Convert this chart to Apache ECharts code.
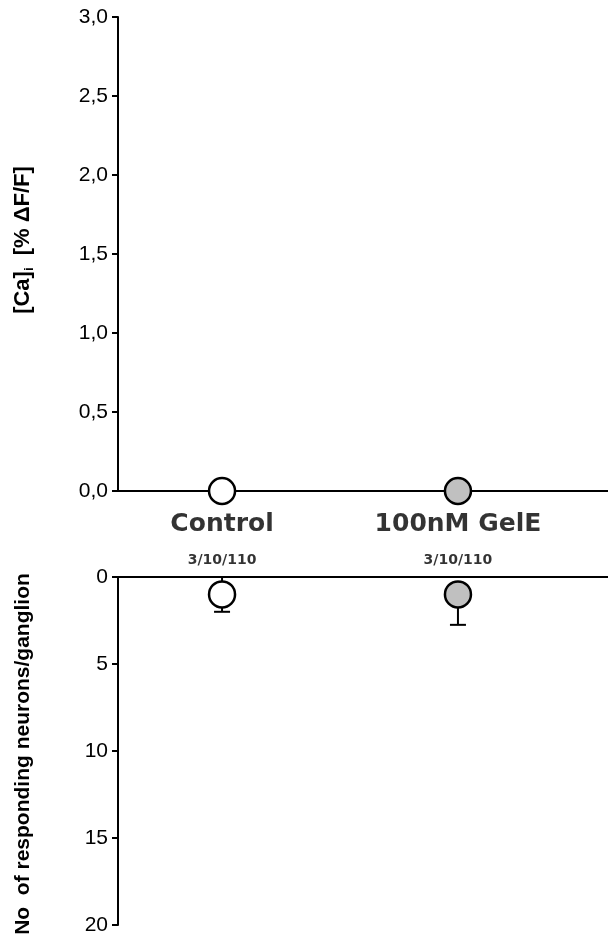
<!DOCTYPE html>
<html>
<head>
<meta charset="utf-8">
<script src="https://cdn.jsdelivr.net/npm/echarts@6/dist/echarts.min.js"></script>
<style>
  html, body { margin: 0; padding: 0; background: #fff; }
  #chart { width: 608px; height: 940px; }
</style>
</head>
<body>
<div id="chart"></div>
<script>
// ---- data ----
const categories = ['Control', '100nM GelE'];
const nLabels = ['3/10/110', '3/10/110'];
const caMean = [0, 0];                 // [Ca]i  [% ΔF/F]
const respMean = [1.0, 1.0];           // No of responding neurons/ganglion
const respErrTop = [0, 1.0];           // upper end of error bar (towards 0)
const respErrBottom = [2.0, 2.75];     // lower end of error bar (mean + SD)
const caTicks = { min: 0, max: 3, interval: 0.5 };
const respTicks = { min: 0, max: 20, interval: 5 };

// ---- styles ----
const fills = ['#ffffff', '#c0c0c0'];
const tickFont = { fontFamily: 'Liberation Sans, Arial, sans-serif', fontSize: 21, color: '#000' };
const nameFont = 'Liberation Sans, Arial, sans-serif';

const chart = echarts.init(document.getElementById('chart'), null, { renderer: 'canvas' });

const xRange = { min: -0.441, max: 1.636 };

function pointData(vals) {
  return vals.map((v, i) => ({
    value: [i, v],
    itemStyle: { color: fills[i], borderColor: '#000', borderWidth: 2.5, opacity: 1 }
  }));
}

const yLine = { show: true, onZero: false, lineStyle: { color: '#000', width: 2 } };
const xLine = { show: true, onZero: false, lineStyle: { color: '#000', width: 2 } };

const option = {
  animation: false,
  backgroundColor: '#fff',
  grid: [
    { left: 118, right: 0, top: 17, height: 474 },
    { left: 118, right: 0, top: 577, height: 348 }
  ],
  xAxis: [
    { gridIndex: 0, type: 'value', min: xRange.min, max: xRange.max,
      axisLine: xLine, axisTick: { show: false }, axisLabel: { show: false }, splitLine: { show: false } },
    { gridIndex: 1, type: 'value', position: 'top', min: xRange.min, max: xRange.max,
      axisLine: xLine, axisTick: { show: false }, axisLabel: { show: false }, splitLine: { show: false } }
  ],
  yAxis: [
    { gridIndex: 0, type: 'value', min: caTicks.min, max: caTicks.max, interval: caTicks.interval,
      axisLine: yLine,
      axisTick: { show: true, length: 6, lineStyle: { color: '#000', width: 2 } },
      axisLabel: Object.assign({ margin: 10, formatter: v => v.toFixed(1).replace('.', ',') }, tickFont),
      splitLine: { show: false },
      name: '{a|[Ca]}{s|i}{a|  [% ΔF/F]}',
      nameLocation: 'middle', nameRotate: 90, nameGap: 82,
      nameTextStyle: {
        padding: [0, 0, 0, 28],
        rich: {
          a: { fontFamily: nameFont, fontWeight: 'bold', fontSize: 22, color: '#000', lineHeight: 26 },
          s: { fontFamily: nameFont, fontWeight: 'bold', fontSize: 13, color: '#000', lineHeight: 26, verticalAlign: 'bottom' }
        }
      }
    },
    { gridIndex: 1, type: 'value', inverse: true, min: respTicks.min, max: respTicks.max, interval: respTicks.interval,
      axisLine: yLine,
      axisTick: { show: true, length: 6, lineStyle: { color: '#000', width: 2 } },
      axisLabel: Object.assign({ margin: 10 }, tickFont),
      splitLine: { show: false },
      name: 'No  of responding neurons/ganglion',
      nameLocation: 'middle', nameRotate: 90, nameGap: 84,
      nameTextStyle: { fontFamily: nameFont, fontWeight: 'bold', fontSize: 21, color: '#000', padding: [0, 6, 0, 0] }
    }
  ],
  series: [
    // top chart points
    { type: 'scatter', xAxisIndex: 0, yAxisIndex: 0, symbol: 'circle', symbolSize: 26, clip: false, z: 5,
      data: pointData(caMean) },
    // category labels under top chart
    { type: 'scatter', xAxisIndex: 0, yAxisIndex: 0, symbolSize: 0, clip: false, silent: true, z: 4,
      data: categories.map((c, i) => ({ value: [i, caMean[i]], name: c })),
      label: {
        show: true, position: 'bottom', distance: 17, color: '#000',
        formatter: p => '{c|' + categories[p.dataIndex] + '}\n{n|' + nLabels[p.dataIndex] + '}',
        rich: {
          c: { fontFamily: 'DejaVu Sans, sans-serif', fontWeight: 'bold', fontSize: 25, color: '#000', lineHeight: 32, align: 'center' },
          n: { fontFamily: 'DejaVu Sans, sans-serif', fontWeight: 'bold', fontSize: 14, color: '#000', lineHeight: 40, align: 'center' }
        }
      }
    },
    // bottom error bars
    { type: 'custom', xAxisIndex: 1, yAxisIndex: 1, z: 3, clip: false,
      data: categories.map((c, i) => [i, respErrTop[i], respErrBottom[i]]),
      encode: { x: 0, y: [1, 2] },
      renderItem: function (params, api) {
        const x = api.value(0);
        const p0 = api.coord([x, api.value(1)]);
        const p1 = api.coord([x, api.value(2)]);
        const hw = 8;
        const st = { stroke: '#000', lineWidth: 2 };
        return { type: 'group', children: [
          { type: 'line', shape: { x1: p0[0], y1: p0[1], x2: p1[0], y2: p1[1] }, style: st },
          { type: 'line', shape: { x1: p1[0] - hw, y1: p1[1], x2: p1[0] + hw, y2: p1[1] }, style: st }
        ] };
      }
    },
    // bottom chart points
    { type: 'scatter', xAxisIndex: 1, yAxisIndex: 1, symbol: 'circle', symbolSize: 26, clip: false, z: 5,
      data: pointData(respMean) }
  ]
};
chart.setOption(option);
</script>
</body>
</html>
